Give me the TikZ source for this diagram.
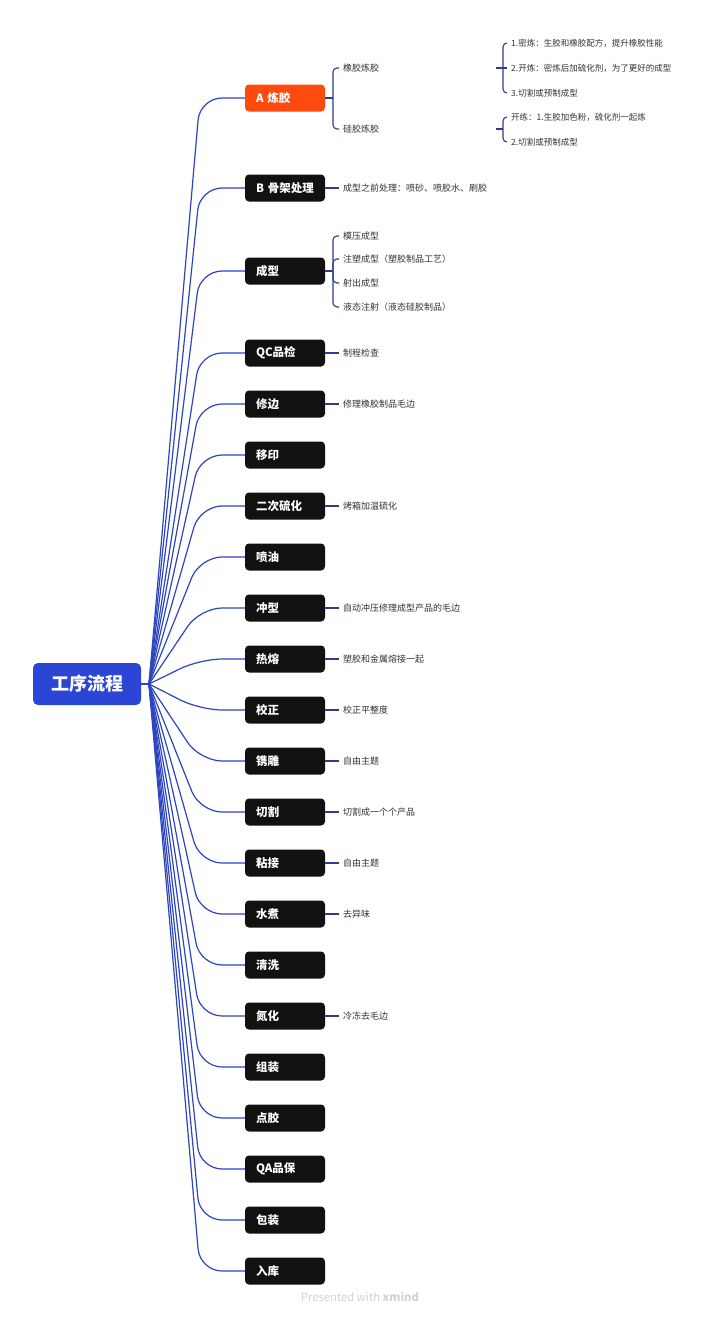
\documentclass[tikz,border=0pt]{standalone}
\usepackage{fontspec}
\setmainfont{Noto Sans CJK SC}
\definecolor{rootblue}{HTML}{2B45D4}
\definecolor{linkblue}{HTML}{2E45C2}
\definecolor{subnavy}{HTML}{2F3C8E}
\definecolor{orangeA}{HTML}{FF4A0F}
\definecolor{boxblack}{HTML}{111111}
\definecolor{labelgray}{HTML}{333333}
\definecolor{footgray}{HTML}{D2D2D2}
\begin{document}
\begin{tikzpicture}[x=1pt,y=-1pt,
  rootbox/.style={draw=none,fill=rootblue,rounded corners=5pt,minimum width=108pt,minimum height=42pt,text=white,font=\bfseries\fontsize{18}{20}\selectfont,inner sep=0pt},
  mainbox/.style={draw=none,fill=boxblack,rounded corners=4pt,minimum width=80pt,minimum height=27pt,text width=62pt,inner xsep=9pt,inner ysep=0pt,align=left,text=white,font=\bfseries\fontsize{11.5}{14}\selectfont},
  sublabel/.style={anchor=west,inner xsep=4pt,inner ysep=1pt,text=labelgray,font=\fontsize{9}{11}\selectfont},
  subsub/.style={anchor=west,inner xsep=4pt,inner ysep=1pt,text=labelgray,font=\fontsize{8.5}{10}\selectfont},
  link/.style={draw=linkblue,line width=1.2pt,rounded corners=22pt},
  sublink/.style={draw=subnavy,line width=1.1pt,rounded corners=4pt}]
\useasboundingbox (0,0) rectangle (720,1317);
\fill[white] (0,0) rectangle (720,1317);

% root
\node[rootbox] (root) at (87,684) {工序流程};
\coordinate (hub) at (149,684);
\draw[link] (root.east) -- (hub);

% main nodes
\node[mainbox,fill=orangeA] (m1) at (285,98) {\hspace*{2pt}A 炼胶};
\node[mainbox] (m2) at (285,188) {\hspace*{2pt}B 骨架处理};
\node[mainbox] (m3) at (285,271) {\hspace*{2pt}成型};
\node[mainbox] (m4) at (285,353) {\hspace*{2pt}QC品检};
\node[mainbox] (m5) at (285,404) {\hspace*{2pt}修边};
\node[mainbox] (m6) at (285,455) {\hspace*{2pt}移印};
\node[mainbox] (m7) at (285,506) {\hspace*{2pt}二次硫化};
\node[mainbox] (m8) at (285,557) {\hspace*{2pt}喷油};
\node[mainbox] (m9) at (285,608) {\hspace*{2pt}冲型};
\node[mainbox] (m10) at (285,659) {\hspace*{2pt}热熔};
\node[mainbox] (m11) at (285,710) {\hspace*{2pt}校正};
\node[mainbox] (m12) at (285,761) {\hspace*{2pt}镌雕};
\node[mainbox] (m13) at (285,812) {\hspace*{2pt}切割};
\node[mainbox] (m14) at (285,863) {\hspace*{2pt}粘接};
\node[mainbox] (m15) at (285,914) {\hspace*{2pt}水煮};
\node[mainbox] (m16) at (285,965) {\hspace*{2pt}清洗};
\node[mainbox] (m17) at (285,1016) {\hspace*{2pt}氮化};
\node[mainbox] (m18) at (285,1067) {\hspace*{2pt}组装};
\node[mainbox] (m19) at (285,1118) {\hspace*{2pt}点胶};
\node[mainbox] (m20) at (285,1169) {\hspace*{2pt}QA品保};
\node[mainbox] (m21) at (285,1220) {\hspace*{2pt}包装};
\node[mainbox] (m22) at (285,1271) {\hspace*{2pt}入库};

\foreach \i/\y in {1/98,2/188,3/271,4/353,5/404,6/455,7/506,8/557,9/608,10/659,11/710,12/761,13/812,14/863,15/914,16/965,17/1016,18/1067,19/1118,20/1169,21/1220,22/1271}{
  \draw[link] (hub) -- (200,\y) -- (m\i.west);
}

% A sub-branches
\node[sublabel] (a1) at (339,68) {橡胶炼胶};
\node[sublabel] (a2) at (339,129) {硅胶炼胶};
\coordinate (ja) at (333,98);
\draw[sublink] (m1.east) -- (ja);
\draw[sublink] (ja) -- (333,68) -- (a1.west);
\draw[sublink] (ja) -- (333,129) -- (a2.west);

% A sub-sub
\node[subsub] (aa1) at (507,43) {1.密炼：生胶和橡胶配方，提升橡胶性能};
\node[subsub] (aa2) at (507,68) {2.开炼：密炼后加硫化剂，为了更好的成型};
\node[subsub] (aa3) at (507,93) {3.切割或预制成型};
\coordinate (sa) at (496,68);
\coordinate (ja2) at (503,68);
\draw[sublink] (sa) -- (ja2);
\draw[sublink] (ja2) -- (503,43) -- (aa1.west);
\draw[sublink] (ja2) -- (aa2.west);
\draw[sublink] (ja2) -- (503,93) -- (aa3.west);

\node[subsub] (ab1) at (507,117) {开练：1.生胶加色粉，硫化剂一起炼};
\node[subsub] (ab2) at (507,142) {2.切割或预制成型};
\coordinate (sb) at (496,129);
\coordinate (jb2) at (503,129);
\draw[sublink] (sb) -- (jb2);
\draw[sublink] (jb2) -- (503,117) -- (ab1.west);
\draw[sublink] (jb2) -- (503,142) -- (ab2.west);

% B
\node[sublabel] (b1) at (339,188) {成型之前处理：喷砂、喷胶水、刷胶};
\draw[sublink] (m2.east) -- (b1.west);

% 成型
\node[sublabel] (c1) at (339,236) {模压成型};
\node[sublabel] (c2) at (339,259) {注塑成型（塑胶制品工艺）};
\node[sublabel] (c3) at (339,283) {射出成型};
\node[sublabel] (c4) at (339,307) {液态注射（液态硅胶制品）};
\coordinate (jc) at (333,271);
\draw[sublink] (m3.east) -- (jc);
\foreach \k/\y in {1/236,2/259,3/283,4/307}{
  \draw[sublink] (jc) -- (333,\y) -- (c\k.west);
}

% single labels
\node[sublabel] (d4) at (339,353) {制程检查};
\node[sublabel] (d5) at (339,404) {修理橡胶制品毛边};
\node[sublabel] (d7) at (339,506) {烤箱加温硫化};
\node[sublabel] (d9) at (339,608) {自动冲压修理成型产品的毛边};
\node[sublabel] (d10) at (339,659) {塑胶和金属熔接一起};
\node[sublabel] (d11) at (339,710) {校正平整度};
\node[sublabel] (d12) at (339,761) {自由主题};
\node[sublabel] (d13) at (339,812) {切割成一个个产品};
\node[sublabel] (d14) at (339,863) {自由主题};
\node[sublabel] (d15) at (339,914) {去异味};
\node[sublabel] (d17) at (339,1016) {冷冻去毛边};
\foreach \i in {4,5,7,9,10,11,12,13,14,15,17}{
  \draw[sublink] (m\i.east) -- (d\i.west);
}

% footer
\node[text=footgray,font=\fontsize{11.3}{13}\selectfont,inner sep=0pt] (foot) at (360,1297) {Presented with \textbf{xmind}};
\end{tikzpicture}
\end{document}
